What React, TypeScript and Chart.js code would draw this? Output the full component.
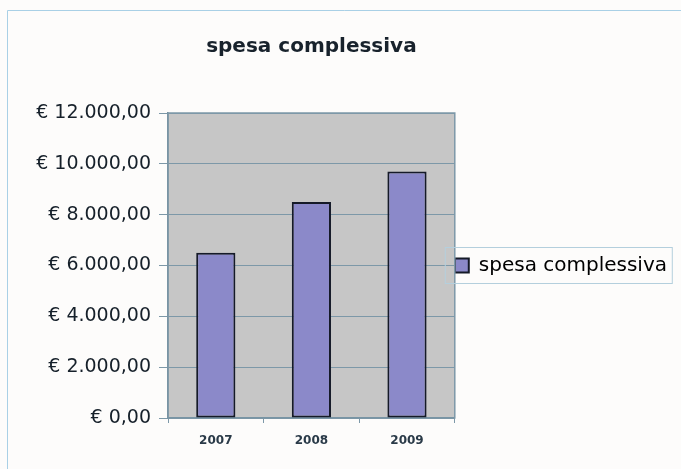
import React, { useEffect, useRef } from "react";
import { Chart, registerables } from "chart.js";

Chart.register(...registerables);

const categories = ["2007", "2008", "2009"];
const spesaComplessiva = [6500, 8500, 9700];
const yTickValues = [0, 2000, 4000, 6000, 8000, 10000, 12000];
const seriesLabel = "spesa complessiva";
const chartTitle = "spesa complessiva";

function formatEuro(v: number): string {
  const fixed = Math.abs(v).toFixed(2);
  const [intPart, dec] = fixed.split(".");
  const withDots = intPart.replace(/\B(?=(\d{3})+(?!\d))/g, ".");
  return "€ " + (v < 0 ? "-" : "") + withDots + "," + dec;
}

const FONT = "'DejaVu Sans', Arial, sans-serif";

const decorPlugin = {
  id: "decor",
  beforeDraw(chart: any) {
    const { ctx, chartArea, width, height } = chart;
    ctx.save();
    ctx.fillStyle = "#fdfcfb";
    ctx.fillRect(0, 0, width, height);
    ctx.strokeStyle = "#a9d0e6";
    ctx.lineWidth = 1;
    ctx.beginPath();
    ctx.moveTo(7.5, height);
    ctx.lineTo(7.5, 10.5);
    ctx.lineTo(width, 10.5);
    ctx.stroke();
    ctx.fillStyle = "#c6c6c6";
    ctx.fillRect(chartArea.left, chartArea.top, chartArea.right - chartArea.left, chartArea.bottom - chartArea.top);
    ctx.restore();
  },
  beforeDatasetsDraw(chart: any) {
    const { ctx, chartArea } = chart;
    ctx.save();
    ctx.strokeStyle = "#7d98a8";
    ctx.lineWidth = 1.5;
    ctx.strokeRect(chartArea.left, chartArea.top, chartArea.right - chartArea.left, chartArea.bottom - chartArea.top);
    ctx.restore();
  },
  afterDraw(chart: any) {
    const legend = chart.legend;
    if (!legend || !legend.legendHitBoxes || !legend.legendHitBoxes.length) return;
    const hb = legend.legendHitBoxes[0];
    const { ctx } = chart;
    const cy = hb.top + hb.height / 2;
    ctx.save();
    ctx.strokeStyle = "#b4cfdd";
    ctx.lineWidth = 1;
    ctx.strokeRect(hb.left - 9.5, Math.round(cy - 19) + 0.5, 227, 36);
    ctx.restore();
  },
};

export default function App() {
  const ref = useRef<HTMLCanvasElement | null>(null);
  useEffect(() => {
    if (!ref.current) return;
    const chart = new Chart(ref.current, {
      type: "bar",
      data: {
        labels: categories,
        datasets: [
          {
            label: seriesLabel,
            data: spesaComplessiva,
            backgroundColor: "#8b89c9",
            borderColor: "#151a28",
            borderWidth: 2,
            borderSkipped: false,
            barPercentage: 0.41,
            categoryPercentage: 1,
          },
        ],
      },
      options: {
        animation: false,
        responsive: false,
        maintainAspectRatio: false,
        layout: { padding: { top: 20, right: 4, bottom: 0, left: 0 } },
        plugins: {
          title: {
            display: true,
            text: chartTitle,
            fullSize: false,
            color: "#18222c",
            font: { family: FONT, size: 20, weight: "bold", lineHeight: 1.2 },
            padding: { top: 15, bottom: 54 },
          },
          legend: {
            display: true,
            position: "right",
            fullSize: false,
            align: "center",
            maxWidth: 260,
            labels: {
              boxWidth: 14,
              boxHeight: 14,
              padding: 0,
              color: "#16202a",
              font: { family: FONT, size: 20 },
              generateLabels: () => [
                {
                  text: seriesLabel,
                  fillStyle: "#8b89c9",
                  strokeStyle: "#151a28",
                  lineWidth: 2,
                  hidden: false,
                  datasetIndex: 0,
                },
              ],
            },
          },
          tooltip: { enabled: false },
        },
        scales: {
          x: {
            offset: true,
            grid: {
              offset: true,
              drawOnChartArea: false,
              drawTicks: true,
              tickLength: 5,
              color: "#7d98a8",
            },
            border: { display: true, color: "#6d8898", width: 1.5 },
            ticks: {
              color: "#2a3a48",
              font: { family: FONT, size: 12, weight: "bold" },
              padding: 11,
            },
            afterFit: (s: any) => {
              s.height = 51;
            },
          },
          y: {
            min: 0,
            max: 12000,
            afterBuildTicks: (s: any) => {
              s.ticks = yTickValues.map((v) => ({ value: v }));
            },
            grid: {
              color: "#7d98a8",
              lineWidth: 1,
              tickLength: 9,
              drawTicks: true,
            },
            border: { display: true, color: "#6d8898", width: 1.5 },
            ticks: {
              color: "#16202a",
              font: { family: FONT, size: 19 },
              padding: 8,
              callback: (v: any) => formatEuro(Number(v)),
            },
            afterFit: (s: any) => {
              s.width = 168;
            },
          },
        },
      },
      plugins: [decorPlugin],
    });
    return () => chart.destroy();
  }, []);
  return (
    <div style={{ position: "absolute", left: 0, top: 0, width: 681, height: 469 }}>
      <canvas ref={ref} width={681} height={469} style={{ display: "block", width: 681, height: 469 }} />
    </div>
  );
}
